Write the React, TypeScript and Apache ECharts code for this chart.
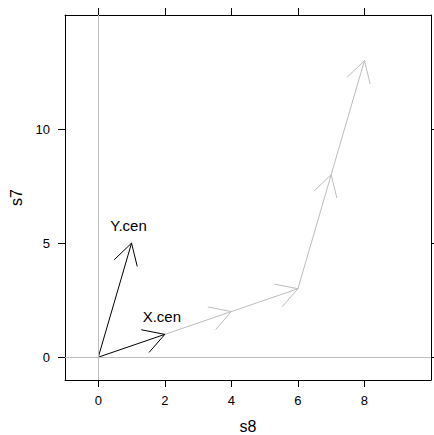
import React, { useEffect, useRef } from "react";
import * as echarts from "echarts";

const pathX = [2, 4, 6, 7, 8];
const pathY = [1, 2, 3, 8, 13];
const vecNames = ["X.cen", "Y.cen"];
const vecX = [2, 1];
const vecY = [1, 5];
const xTicks = [0, 2, 4, 6, 8];
const yTicks = [0, 5, 10];
const xName = "s8";
const yName = "s7";

const FONT = "Liberation Sans, Arial, Helvetica, sans-serif";
const GRAY = "#bdbdbd";
const HEAD = 24;
const ANG = Math.PI / 6;

function arrowShapes(p0: number[], p1: number[], color: string) {
  const th = Math.atan2(p0[1] - p1[1], p0[0] - p1[0]);
  const a = [p1[0] + HEAD * Math.cos(th + ANG), p1[1] + HEAD * Math.sin(th + ANG)];
  const b = [p1[0] + HEAD * Math.cos(th - ANG), p1[1] + HEAD * Math.sin(th - ANG)];
  return [
    { type: "line", shape: { x1: p0[0], y1: p0[1], x2: p1[0], y2: p1[1] }, style: { stroke: color, lineWidth: 1 } },
    { type: "polyline", shape: { points: [a, p1, b] }, style: { stroke: color, fill: null, lineWidth: 1 } },
  ];
}

export default function App() {
  const ref = useRef<HTMLDivElement>(null);
  useEffect(() => {
    document.body.style.margin = "0";
    const chart = echarts.init(ref.current!, null, { renderer: "svg" });
    const segs: number[][] = [];
    for (let i = 0; i < pathX.length - 1; i++) segs.push([pathX[i], pathY[i], pathX[i + 1], pathY[i + 1]]);
    const vecs = vecNames.map((n, i) => [0, 0, vecX[i], vecY[i], n]);
    const axisLine = { show: true, onZero: false, lineStyle: { color: "#000", width: 1 } };
    const tickStyle = { show: true, inside: false, length: 7, lineStyle: { color: "#000", width: 1 } };
    chart.setOption({
      animation: false,
      grid: { left: 65, top: 15, width: 366, height: 365, containLabel: false, outerBoundsMode: "none" },
      xAxis: [
        {
          type: "value", min: -1, max: 10, position: "bottom",
          axisLine, splitLine: { show: false },
          axisTick: { ...tickStyle, customValues: xTicks },
          axisLabel: { customValues: xTicks, color: "#000", fontSize: 13, fontFamily: FONT, margin: 14 },
          name: xName, nameLocation: "middle", nameGap: 38,
          nameTextStyle: { color: "#000", fontSize: 16, fontFamily: FONT },
        },
        {
          type: "value", min: -1, max: 10, position: "top",
          axisLine, splitLine: { show: false },
          axisTick: { ...tickStyle, customValues: xTicks },
          axisLabel: { show: false },
        },
      ],
      yAxis: [
        {
          type: "value", min: -1, max: 15, position: "left",
          axisLine, splitLine: { show: false },
          axisTick: { ...tickStyle, customValues: yTicks },
          axisLabel: { customValues: yTicks, color: "#000", fontSize: 13, fontFamily: FONT, margin: 15 },
          name: yName, nameLocation: "middle", nameGap: 40,
          nameTextStyle: { color: "#000", fontSize: 16, fontFamily: FONT },
        },
        {
          type: "value", min: -1, max: 15, position: "right",
          axisLine, splitLine: { show: false },
          axisTick: { ...tickStyle, customValues: yTicks },
          axisLabel: { show: false },
        },
      ],
      series: [
        {
          type: "scatter", data: [], z: 1, silent: true,
          markLine: {
            symbol: "none", silent: true, animation: false,
            label: { show: false },
            lineStyle: { color: GRAY, type: "solid", width: 1 },
            data: [{ xAxis: 0 }, { yAxis: 0 }],
          },
        },
        {
          type: "custom", z: 2, silent: true,
          data: segs,
          encode: { x: [0, 2], y: [1, 3] },
          renderItem: (params: any, api: any) => {
            const p0 = api.coord([api.value(0), api.value(1)]);
            const p1 = api.coord([api.value(2), api.value(3)]);
            return { type: "group", children: arrowShapes(p0, p1, GRAY) };
          },
        },
        {
          type: "custom", z: 3, silent: true,
          data: vecs,
          encode: { x: [0, 2], y: [1, 3] },
          renderItem: (params: any, api: any) => {
            const p0 = api.coord([api.value(0), api.value(1)]);
            const p1 = api.coord([api.value(2), api.value(3)]);
            const name = vecNames[params.dataIndex];
            return {
              type: "group",
              children: [
                ...arrowShapes(p0, p1, "#000"),
                {
                  type: "text",
                  style: {
                    text: name, x: p1[0] - 3, y: p1[1] - 18,
                    align: "center", verticalAlign: "middle",
                    fontSize: 15, fontFamily: FONT, fill: "#000",
                  },
                },
              ],
            };
          },
        },
      ],
    });
    return () => chart.dispose();
  }, []);
  return <div ref={ref} style={{ width: 434, height: 435 }} />;
}
